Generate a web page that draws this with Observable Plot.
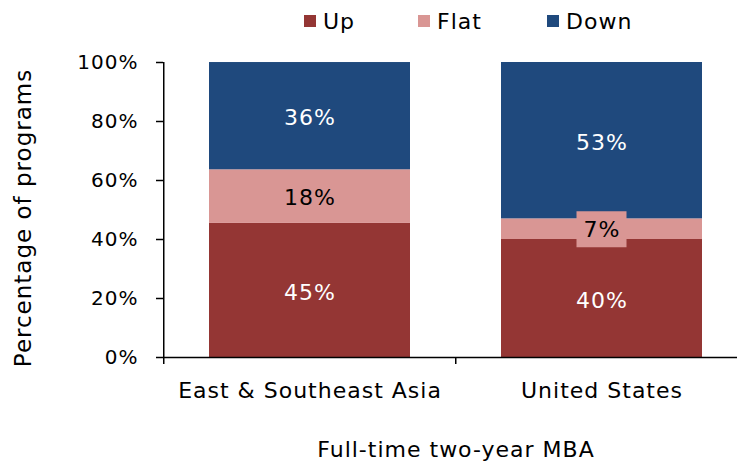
<!DOCTYPE html>
<html><head><meta charset="utf-8">
<script src="https://cdn.jsdelivr.net/npm/d3@7"></script>
<script src="https://cdn.jsdelivr.net/npm/@observablehq/plot@0.6"></script>
<style>
body{margin:0;background:#fff;font-family:"DejaVu Sans",sans-serif;}
#legend{position:relative;height:40px;width:737px;}
.item{position:absolute;top:0;height:42px;display:flex;align-items:center;font-size:22px;color:#000;letter-spacing:1px;}
.sw{width:12px;height:12px;margin-right:7px;}
#chart svg{overflow:visible;}
</style></head><body>
<div id="legend"></div>
<div id="chart"></div>
<script>
const categories = ["East & Southeast Asia", "United States"];
const series = ["Up", "Flat", "Down"];
const colors = ["#943634", "#D99694", "#1F497D"];
const upValues = [45.45, 40];
const flatValues = [18.18, 7];
const downValues = [36.36, 53];
const yTicks = [0, 20, 40, 60, 80, 100];
const xTitle = "Full-time two-year MBA";
const yTitle = "Percentage of programs";

const seriesValues = [upValues, flatValues, downValues];
const rows = [];
categories.forEach((c, i) => {
  let acc = 0;
  series.forEach((s, j) => {
    const v = seriesValues[j][i];
    rows.push({category: c, series: s, value: v, y1: acc, y2: acc + v, mid: acc + v / 2});
    acc += v;
  });
});

// legend
const legend = document.getElementById("legend");
const legendLeft = [304, 418, 547];
series.forEach((s, j) => {
  const it = document.createElement("div");
  it.className = "item";
  it.style.left = legendLeft[j] + "px";
  const sw = document.createElement("span");
  sw.className = "sw";
  sw.style.background = colors[j];
  it.appendChild(sw);
  it.appendChild(document.createTextNode(s));
  legend.appendChild(it);
});

const W = 737, ML = 163, MR = -11;
const step = (W - MR - ML) / categories.length;
const flatRows = rows.filter(d => d.series === "Flat");
const otherRows = rows.filter(d => d.series !== "Flat");
const fmt = d => Math.round(d.value) + "%";

const chart = Plot.plot({
  width: W, height: 421,
  marginLeft: ML, marginRight: MR, marginTop: 22, marginBottom: 104,
  style: {fontFamily: "DejaVu Sans", fontSize: "20px", color: "#000", background: "#fff", letterSpacing: "1px"},
  x: {domain: categories, paddingInner: 0.31, paddingOuter: 0.155, label: null},
  y: {domain: [0, 100], label: null},
  color: {domain: series, range: colors},
  marks: [
    Plot.barY(rows, {x: "category", y1: "y1", y2: "y2", fill: "series"}),
    Plot.tickY(flatRows, {x: "category", y: "mid", stroke: colors[1], strokeWidth: 36, insetLeft: 75.5, insetRight: 75.5}),
    Plot.text(otherRows, {x: "category", y: "mid", text: fmt, fill: "white", fontSize: 22, dy: 2}),
    Plot.text(flatRows, {x: "category", y: "mid", text: fmt, fill: "black", fontSize: 22, dy: 1}),
    Plot.ruleY([0], {stroke: "#000", strokeWidth: 1.5}),
    Plot.ruleX([categories[0]], {x: d => d, y1: 0, y2: 100, dx: -step / 2, stroke: "#000", strokeWidth: 1.5}),
    Plot.ruleX(categories, {x: d => d, y1: 0, y2: 0, insetBottom: -7, dx: -step / 2, stroke: "#000", strokeWidth: 1.5}),
    Plot.ruleX([categories[categories.length - 1]], {x: d => d, y1: 0, y2: 0, insetBottom: -7, dx: step / 2, stroke: "#000", strokeWidth: 1.5}),
    Plot.axisY({ticks: yTicks, tickSize: 7, tickPadding: 18, tickFormat: d => d + "%", label: null, fontSize: 20, strokeWidth: 1.5}),
    Plot.axisX({tickSize: 0, tickPadding: 25, label: null, fontSize: 22}),
    Plot.text([xTitle], {frameAnchor: "bottom", text: d => d, dy: 99, fontSize: 22, fill: "#000"}),
    Plot.text([yTitle], {frameAnchor: "left", textAnchor: "middle", text: d => d, dx: -140, dy: 8, rotate: -90, fontSize: 23, fill: "#000", letterSpacing: "1.3px"})
  ]
});
document.getElementById("chart").appendChild(chart);
</script>
</body></html>
